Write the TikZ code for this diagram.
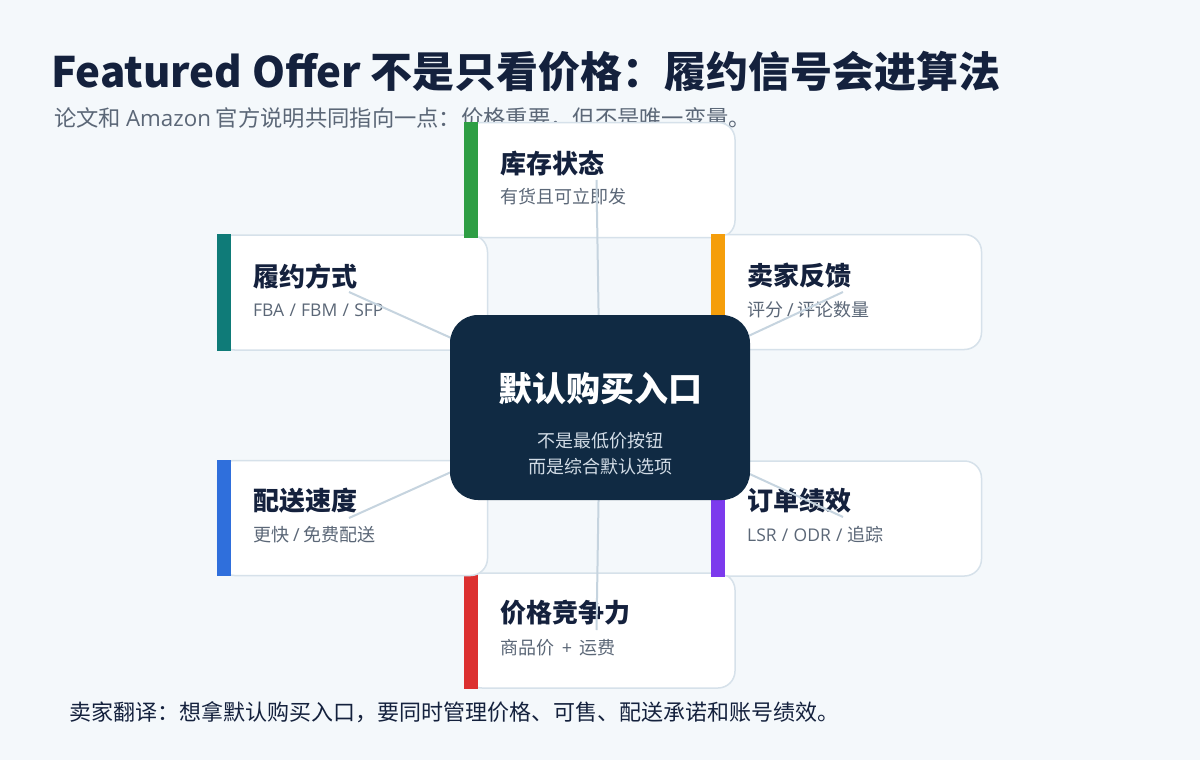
\documentclass[tikz,border=0pt]{standalone}
\usepackage{fontspec}
\setmainfont{Noto Sans CJK SC}
\newfontfamily\latinf{Open Sans}
\definecolor{bgc}{HTML}{F4F8FB}
\definecolor{ink}{HTML}{14213D}
\definecolor{subink}{HTML}{5B6777}
\definecolor{cardline}{HTML}{D6E1EA}
\definecolor{linkc}{HTML}{C6D4DF}
\definecolor{hubc}{HTML}{102A43}
\definecolor{hubsub}{HTML}{D2DCE6}
\definecolor{cgreen}{HTML}{2E9E44}
\definecolor{cteal}{HTML}{0F7B78}
\definecolor{corange}{HTML}{F59E0B}
\definecolor{cblue}{HTML}{2F6FDC}
\definecolor{cpurple}{HTML}{7C3AED}
\definecolor{cred}{HTML}{DC3030}
\tikzset{
  card/.style={draw=cardline, line width=1.5pt, fill=white, rounded corners=17pt,
    minimum width=270pt, minimum height=115pt, inner sep=0pt},
  ctitle/.style={anchor=west, inner sep=0pt, text=ink, font=\fontsize{26}{30}\selectfont\bfseries},
  csub/.style={anchor=west, inner sep=0pt, text=subink, font=\fontsize{18}{21}\selectfont},
  link/.style={draw=linkc, line width=2pt},
  hub/.style={fill=hubc, rounded corners=28pt, minimum width=300pt, minimum height=185pt, inner sep=0pt},
}
\newcommand{\accentbar}[2]{\fill[#2] (#1.north west) rectangle ([xshift=14pt]#1.south west);}
\newcommand{\wideslash}{\hspace{0.3em}/\hspace{0.3em}}
\begin{document}
\begin{tikzpicture}[x=1pt,y=-1pt]
\fill[bgc] (0,0) rectangle (1200,760);
\useasboundingbox (0,0) rectangle (1200,760);

\node[anchor=west, inner sep=0pt, text=ink, font=\fontsize{42}{50}\selectfont\bfseries] (title) at (51,72)
  {Featured Offer 不是只看价格：履约信号会进算法};
\node[anchor=west, inner sep=0pt, text=subink, font=\fontsize{22.3}{26}\selectfont] (subtitle) at (54,118)
  {论文和 {\latinf Amazon} 官方说明共同指向一点：价格重要，但不是唯一变量。};

% cards (drawing order matters for overlaps)
\node[card] (price) at (600,630.5) {};
\accentbar{price}{cred}
\node[ctitle] (priceT) at (500,613) {价格竞争力};
\node[csub] (priceS) at (500,648) {商品价 {\latinf\hspace{0.2em}+\hspace{0.2em}} 运费};

\node[card] (ship) at (352.5,518) {};
\accentbar{ship}{cblue}
\node[ctitle] (shipT) at (253,501) {配送速度};
\node[csub] (shipS) at (253,535) {更快 {\latinf /} 免费配送};

\node[card] (fulfil) at (352.5,292.5) {};
\accentbar{fulfil}{cteal}
\node[ctitle] (fulfilT) at (253,276) {履约方式};
\node[csub] (fulfilS) at (253,310) {\latinf\fontsize{17.5}{20}\selectfont FBA\wideslash FBM\wideslash SFP};

\node[card] (stock) at (600,180) {};
\accentbar{stock}{cgreen}
\node[ctitle] (stockT) at (500,163) {库存状态};
\node[csub] (stockS) at (500,197) {有货且可立即发};

\node[card] (feedback) at (846.5,292) {};
\accentbar{feedback}{corange}
\node[ctitle] (feedbackT) at (747,276) {卖家反馈};
\node[csub] (feedbackS) at (747,310) {评分 {\latinf /} 评论数量};

\node[card] (order) at (846.5,518.5) {};
\accentbar{order}{cpurple}
\node[ctitle] (orderT) at (747,501) {订单绩效};
\node[csub] (orderS) at (747,535) {{\latinf\fontsize{17.5}{20}\selectfont LSR\wideslash ODR\wideslash}追踪};

% connectors
\coordinate (hubpt) at (600,405);
\coordinate (pStock) at (596.5,180);
\coordinate (pFulfil) at (349,292);
\coordinate (pFeed) at (843,292);
\coordinate (pShip) at (349,518);
\coordinate (pOrder) at (843,517);
\coordinate (pPrice) at (596.5,630);
\draw[link] (hubpt) -- (pStock);
\draw[link] (hubpt) -- (pFulfil);
\draw[link] (hubpt) -- (pFeed);
\draw[link] (hubpt) -- (pShip);
\draw[link] (hubpt) -- (pOrder);
\draw[link] (hubpt) -- (pPrice);

% hub
\node[hub] (hub) at (600,407.5) {};
\node[inner sep=0pt, text=white, font=\fontsize{34}{40}\selectfont\bfseries] (hubT) at (600,389) {默认购买入口};
\node[inner sep=0pt, text=hubsub, font=\fontsize{18}{21}\selectfont] (hubS1) at (600,441) {不是最低价按钮};
\node[inner sep=0pt, text=hubsub, font=\fontsize{18}{21}\selectfont] (hubS2) at (600,467) {而是综合默认选项};

\node[anchor=west, inner sep=0pt, text=ink, font=\fontsize{22}{26}\selectfont] (footer) at (69,712)
  {卖家翻译：想拿默认购买入口，要同时管理价格、可售、配送承诺和账号绩效。};
\end{tikzpicture}
\end{document}
